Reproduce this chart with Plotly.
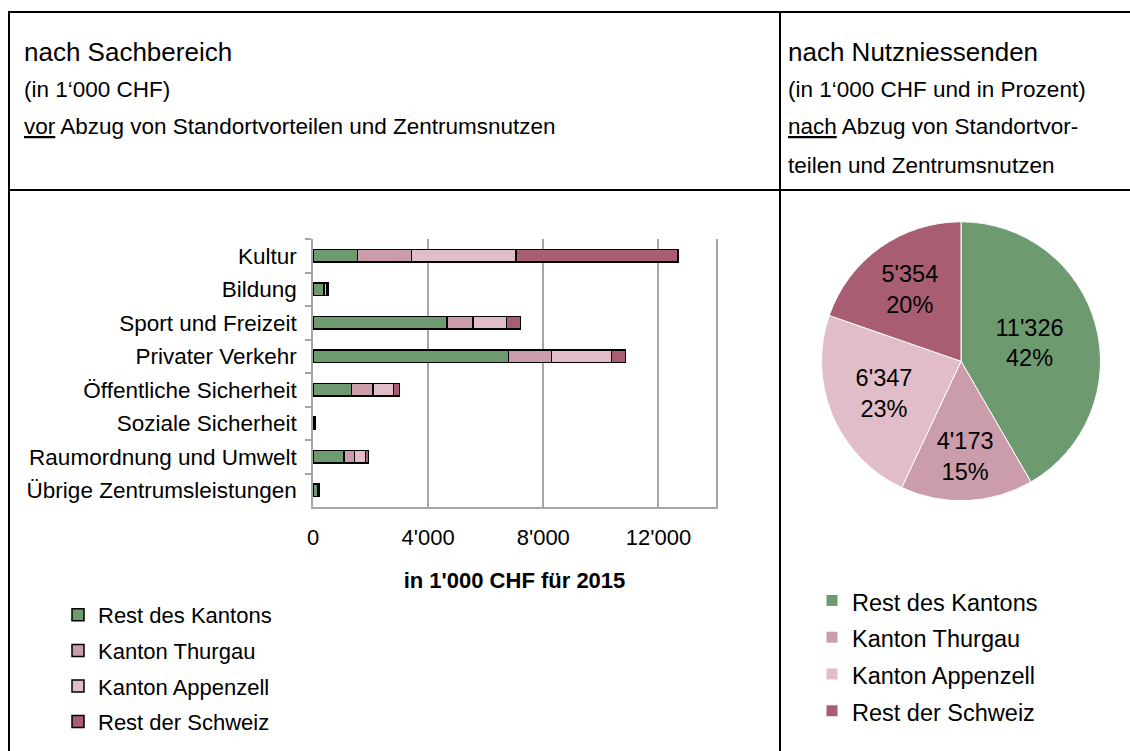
import plotly.graph_objects as go

# ---------------- data ----------------
categories = ["Kultur", "Bildung", "Sport und Freizeit", "Privater Verkehr",
              "Öffentliche Sicherheit", "Soziale Sicherheit",
              "Raumordnung und Umwelt", "Übrige Zentrumsleistungen"]
series_names = ["Rest des Kantons", "Kanton Thurgau", "Kanton Appenzell", "Rest der Schweiz"]
rest_des_kantons = [1540, 360, 4650, 6790, 1340, 40, 1070, 150]
kanton_thurgau = [1880, 30, 900, 1500, 740, 15, 370, 30]
kanton_appenzell = [3640, 100, 1180, 2080, 710, 15, 380, 30]
rest_der_schweiz = [5620, 50, 480, 490, 210, 10, 100, 20]
bar_series = [rest_des_kantons, kanton_thurgau, kanton_appenzell, rest_der_schweiz]

pie_values = [11326, 4173, 6347, 5354]
x_tickvals = [0, 4000, 8000, 12000]

colors = ["#6E9A70", "#CB9CAA", "#E0BDC8", "#A85D73"]

W, H = 1130, 751
FONT = "Liberation Sans, Arial, sans-serif"


def px_x(p):
    return p / W


def px_y(p):
    return 1 - p / H


fig = go.Figure()

for name, vals, col in zip(series_names, bar_series, colors):
    fig.add_trace(go.Bar(
        y=categories, x=vals, name=name, orientation="h",
        marker=dict(color=col, line=dict(color="black", width=1.5)),
        width=0.38, legend="legend", legendgroup=name,
    ))

# legend entries of the pie use a slightly smaller text than the legend row height
pie_legend_labels = ['<span style="font-size:23.5px">%s</span>' % n for n in series_names]

fig.add_trace(go.Pie(
    labels=pie_legend_labels, values=pie_values, sort=False, direction="clockwise",
    rotation=0, marker=dict(colors=colors, line=dict(color="white", width=1)),
    texttemplate="%{value:,}<br>%{percent:.0%}", textposition="inside",
    insidetextorientation="horizontal",
    textfont=dict(family=FONT, size=23.5, color="black"),
    domain=dict(x=[px_x(821.5), px_x(1100.5)], y=[px_y(501), px_y(221.5)]),
    legend="legend2", showlegend=True, hoverinfo="value+percent",
))

line = dict(color="black", width=2)
shapes = [
    dict(type="line", xref="paper", yref="paper", x0=px_x(9), x1=1.01, y0=px_y(12), y1=px_y(12), line=line),
    dict(type="line", xref="paper", yref="paper", x0=px_x(9), x1=px_x(9), y0=px_y(11), y1=-0.01, line=line),
    dict(type="line", xref="paper", yref="paper", x0=px_x(780), x1=px_x(780), y0=px_y(11), y1=-0.01, line=line),
    dict(type="line", xref="paper", yref="paper", x0=px_x(9), x1=1.01, y0=px_y(190), y1=px_y(190), line=line),
]

annotations = []
left_lines = [("nach Sachbereich", 26, 52), ("(in 1‘000 CHF)", 22.5, 90),
              ("<u>vor</u> Abzug von Standortvorteilen und Zentrumsnutzen", 22.5, 127)]
right_lines = [("nach Nutzniessenden", 26, 52), ("(in 1‘000 CHF und in Prozent)", 22.5, 90),
               ("<u>nach</u> Abzug von Standortvor-", 22.5, 127),
               ("teilen und Zentrumsnutzen", 22.5, 165)]
for txt, sz, yy in left_lines:
    annotations.append(dict(text=txt, x=px_x(22), y=px_y(yy), xref="paper", yref="paper",
                            xanchor="left", yanchor="middle", showarrow=False,
                            font=dict(family=FONT, size=sz, color="black")))
for txt, sz, yy in right_lines:
    annotations.append(dict(text=txt, x=px_x(786), y=px_y(yy), xref="paper", yref="paper",
                            xanchor="left", yanchor="middle", showarrow=False,
                            font=dict(family=FONT, size=sz, color="black")))

fig.update_layout(
    width=W, height=H, autosize=False,
    margin=dict(l=0, r=0, t=0, b=0),
    paper_bgcolor="white", plot_bgcolor="white",
    barmode="stack", bargap=0.62,
    separators=".'",
    font=dict(family=FONT, size=22, color="black"),
    showlegend=True,
    shapes=shapes, annotations=annotations,
    xaxis=dict(domain=[px_x(313), px_x(716)], range=[0, 14000],
               tickvals=x_tickvals, tickformat=",", showgrid=True,
               gridcolor="#A6A6A6", gridwidth=1.5, showline=True,
               linecolor="#A6A6A6", linewidth=1.5, zeroline=False,
               ticks="", ticklabelstandoff=10, automargin=False,
               tickfont=dict(family=FONT, size=22, color="black"),
               title=dict(text="<b>in 1'000 CHF für 2015</b>", standoff=23,
                          font=dict(family=FONT, size=22, color="black"))),
    yaxis=dict(domain=[px_y(507), px_y(239)], autorange="reversed",
               showline=True, mirror=True, linecolor="#A6A6A6", linewidth=1.5,
               ticks="outside", tickson="boundaries", ticklen=6,
               tickcolor="#A6A6A6", tickwidth=1.5, showgrid=False,
               ticklabelstandoff=10, automargin=False,
               tickfont=dict(family=FONT, size=22.5, color="black")),
    legend=dict(x=px_x(58), y=px_y(594), xanchor="left", yanchor="top",
                traceorder="grouped", tracegroupgap=4, bgcolor="rgba(0,0,0,0)",
                font=dict(family=FONT, size=22, color="black")),
    legend2=dict(x=px_x(812), y=px_y(577), xanchor="left", yanchor="top",
                 traceorder="normal", bgcolor="rgba(0,0,0,0)",
                 font=dict(family=FONT, size=26, color="black")),
)

fig.write_html("out.html")
